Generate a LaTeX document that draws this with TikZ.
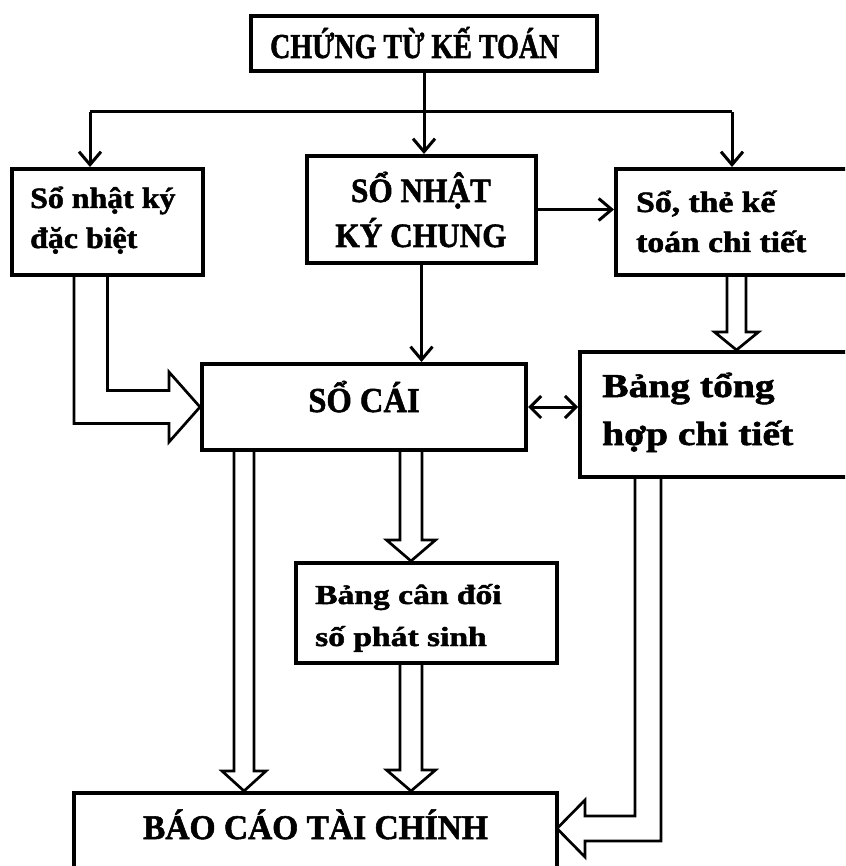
\documentclass[tikz,border=0pt]{standalone}
\usepackage{fontspec}
\setmainfont{Liberation Serif}[BoldFeatures={FakeBold=1.6}]
\usepackage{graphicx}
\usetikzlibrary{arrows.meta,backgrounds,calc}

% bold label, horizontally scaled: {xscale}{size}{skip}{column}{lines}
\newcommand\boxlabel[5]{\scalebox{#1}[1]{\fontsize{#2}{#3}\selectfont\bfseries\begin{tabular}[t]{@{}#4@{}}#5\end{tabular}}}

% open block arrow pointing down: {centre x}{from}{to}{shaft half}{head half}{head length}
\newcommand\downblock[6]{%
  \draw[hollow] let \p1=(#2.south), \p2=(#3.north) in
    ({#1pt-#4pt},\y1) -- ({#1pt-#4pt},{\y2+#6pt}) -- ({#1pt-#5pt},{\y2+#6pt})
    -- (#1pt,\y2) -- ({#1pt+#5pt},{\y2+#6pt}) -- ({#1pt+#4pt},{\y2+#6pt})
    -- ({#1pt+#4pt},\y1);}

\begin{document}
\begin{tikzpicture}[x=1pt,y=-1pt,
  box/.style={draw, line width=4pt, fill=white, inner sep=0pt},
  lbl/.style={inner sep=0pt},
  line/.style={line width=3pt},
  arr/.style={line width=3pt, -{Straight Barb[length=13pt,width=22pt]}},
  darr/.style={line width=3pt, {Straight Barb[length=11pt,width=22pt]}-{Straight Barb[length=11pt,width=22pt]}},
  hollow/.style={draw, line width=2.7pt, fill=white, line join=miter}]

\useasboundingbox (0,0) rectangle (845,866);
\clip (0,0) rectangle (845,866);

% boxes
\node[box, minimum width=346pt, minimum height=55.5pt] (chungtu) at (424,43.75) {};
\node[box, minimum width=191pt, minimum height=106pt] (nkdb) at (107.5,222) {};
\node[box, minimum width=229pt, minimum height=107pt] (nkc) at (421.5,209.5) {};
\node[box, minimum width=284pt, minimum height=106pt] (sct) at (758,222) {};
\node[box, minimum width=324pt, minimum height=86pt] (socai) at (364,407) {};
\node[box, minimum width=320pt, minimum height=125pt] (bthct) at (740,414.5) {};
\node[box, minimum width=261pt, minimum height=100pt] (bcdps) at (426.5,613) {};
\node[box, minimum width=483pt, minimum height=157pt] (bctc) at (315.5,871.5) {};

% labels
\node[lbl, anchor=base west] (tChungtu) at (270,58) {\boxlabel{0.8}{35}{40}{l}{CHỨNG TỪ KẾ TOÁN}};
\node[lbl, anchor=base west] (tNkdb) at (30,208) {\boxlabel{1.08}{29.5}{40}{l}{Sổ nhật ký\\đặc biệt}};
\node[lbl, anchor=base] (tNkc) at (421,202) {\boxlabel{0.92}{34}{45}{c}{SỔ NHẬT\\KÝ CHUNG}};
\node[lbl, anchor=base west] (tSct) at (636,212) {\boxlabel{1.14}{29.5}{40}{l}{Sổ, thẻ kế\\toán chi tiết}};
\node[lbl, anchor=base] (tSocai) at (364,412) {\boxlabel{0.93}{35}{40}{l}{SỔ CÁI}};
\node[lbl, anchor=base west] (tBthct) at (602,397) {\boxlabel{1.18}{33.5}{48}{l}{Bảng tổng\\hợp chi tiết}};
\node[lbl, anchor=base west] (tBcdps) at (315,604) {\boxlabel{1.22}{27.5}{42}{l}{Bảng cân đối\\số phát sinh}};
\node[lbl, anchor=base] (tBctc) at (315.5,839) {\boxlabel{0.97}{34.5}{40}{l}{BÁO CÁO TÀI CHÍNH}};

% distribution from the vouchers
\coordinate (split) at (424,112);
\coordinate (lt) at (90,112);
\coordinate (rt) at (732,112);
\draw[line] (chungtu.south) -- (split);
\draw[line] (lt) -- (rt);
\draw[arr] (lt) -- (lt |- nkdb.north);
\draw[arr] (split) -- (split |- nkc.north);
\draw[arr] (rt) -- (rt |- sct.north);
\draw[arr] (nkc.east) -- (nkc.east -| sct.west);
\draw[arr] (nkc.south) -- (nkc.south |- socai.north);
\draw[darr] (socai.east) -- (socai.east -| bthct.west);

\coordinate (bcIn) at (557,828.5);

\begin{pgfonlayer}{background}
  \downblock{736.5}{sct}{bthct}{9.5}{22}{18}
  \downblock{411}{socai}{bcdps}{11}{24.5}{21}
  \downblock{244}{socai}{bctc}{10}{22}{20}
  \downblock{411}{bcdps}{bctc}{11}{24.5}{21}
  % bent block arrow into the ledger
  \draw[hollow] let \p1=(nkdb.south), \p2=(socai.west) in
    (\x1,\y1) -- (\x1,{\y2+16.5pt}) -- ({\x2-31pt},{\y2+16.5pt}) -- ({\x2-31pt},{\y2+35pt})
    -- (\p2) -- ({\x2-31pt},{\y2-35pt}) -- ({\x2-31pt},{\y2-16.5pt})
    -- ({\x1-33.5pt},{\y2-16.5pt}) -- ({\x1-33.5pt},\y1);
  % bent block arrow into the financial statements
  \draw[hollow] let \p1=(bthct.south), \p2=(bcIn) in
    ({\x1-105pt},\y1) -- ({\x1-105pt},{\y2+12.5pt}) -- ({\x2+28pt},{\y2+12.5pt}) -- ({\x2+28pt},{\y2+28.5pt})
    -- (\p2) -- ({\x2+28pt},{\y2-28.5pt}) -- ({\x2+28pt},{\y2-12.5pt})
    -- ({\x1-79pt},{\y2-12.5pt}) -- ({\x1-79pt},\y1);
\end{pgfonlayer}
\end{tikzpicture}
\end{document}
